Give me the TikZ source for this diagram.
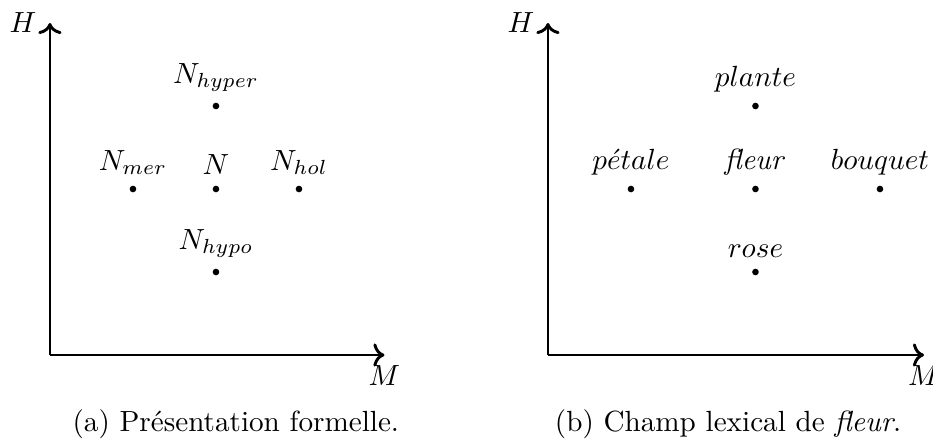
\documentclass[tikz,border=0pt]{standalone}
\usepackage{tikz}
\usetikzlibrary{arrows.meta, positioning}

\begin{document}
\begin{tikzpicture}[
        axis/.style={->, line width=1pt},
        dot/.style={circle, fill=black, inner sep=0pt, minimum size=0.8mm},
        subcap/.style={anchor=base, font=\normalsize}
    ]
        \useasboundingbox (-0.602,-1.096) rectangle (10.639,4.277);

        % (a) formal layout
        \coordinate (oa) at (0,0);
        \coordinate (ha) at (0,4);
        \coordinate (ma) at (4.03,0);
        \draw[axis] (oa) -- (ha);
        \draw[axis] (oa) -- (ma);
        \node[left=1.2pt] at (ha) {$H$};
        \node[below] at (ma) {$M$};

        \node[dot, label=above:{$N$}] (n) at (2,2) {};
        \node[dot, label=above:{$N_{hyper}$}] (nhyper) at (2,3) {};
        \node[dot, label=above:{$N_{hypo}$}] (nhypo) at (2,1) {};
        \node[dot, label=above:{$N_{mer}$}] (nmer) at (1,2) {};
        \node[dot, label=above:{$N_{hol}$}] (nhol) at (3,2) {};

        \node[subcap] (capa) at (2.24,-0.92) {(a) Présentation formelle.};

        % (b) lexical field
        \coordinate (ob) at (6,0);
        \coordinate (hb) at (6,4);
        \coordinate (mb) at (10.53,0);
        \draw[axis] (ob) -- (hb);
        \draw[axis] (ob) -- (mb);
        \node[left=1.2pt] at (hb) {$H$};
        \node[below] at (mb) {$M$};

        \node[dot, label=above:{$\mathit{fleur}$}] (fleur) at (8.5,2) {};
        \node[dot, label=above:{$plante$}] (plante) at (8.5,3) {};
        \node[dot, label=above:{$rose$}] (rose) at (8.5,1) {};
        \node[dot, label=above:{$p\acute{e}tale$}] (petale) at (7,2) {};
        \node[dot, label=above:{$bouquet$}] (bouquet) at (10,2) {};

        \node[subcap] (capb) at (8.17,-0.92) {(b) Champ lexical de \textit{fleur}.};
    \end{tikzpicture}
\end{document}
